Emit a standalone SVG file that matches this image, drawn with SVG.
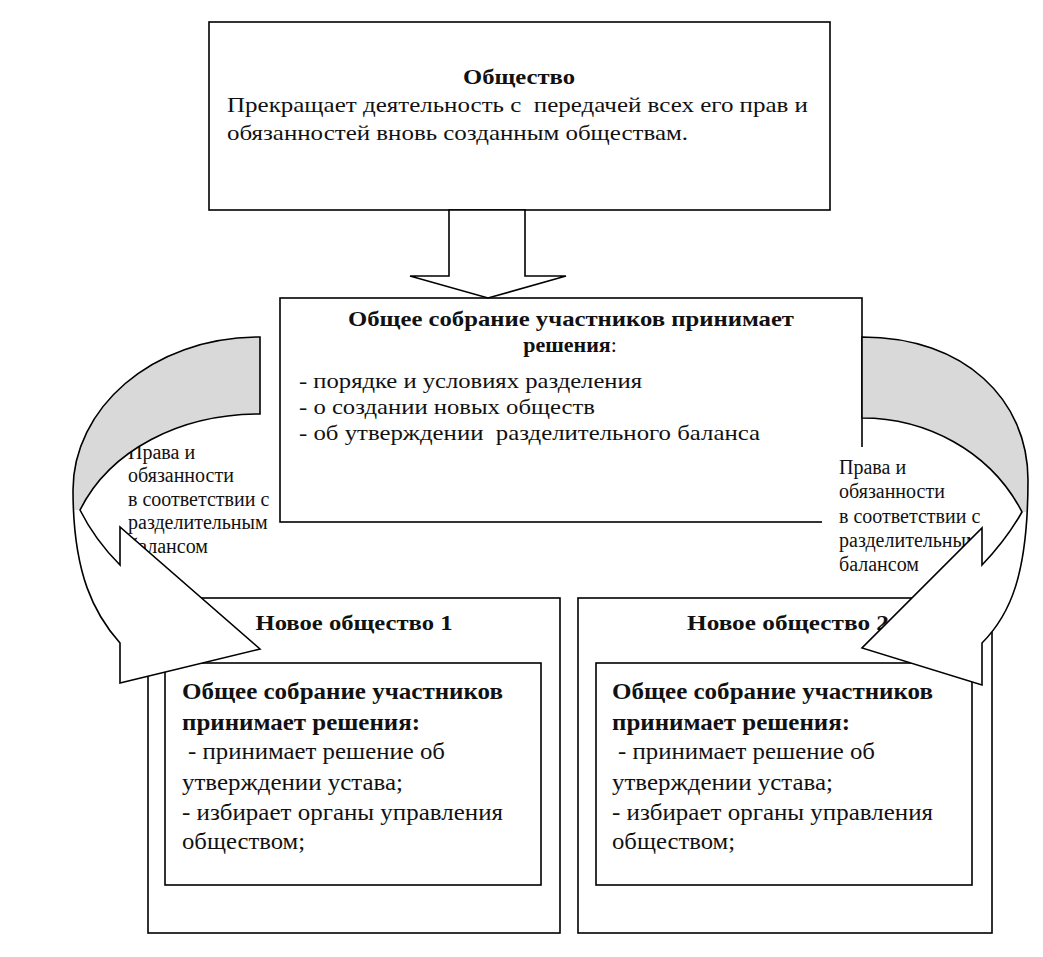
<svg xmlns="http://www.w3.org/2000/svg" xmlns:xlink="http://www.w3.org/1999/xlink" width="1043" height="957" viewBox="0 0 1043 957">
<style>
.box{fill:#fff;stroke:#000;stroke-width:1.6}
.t{font-family:"Liberation Serif","Times New Roman",serif;fill:#111}
.b{font-weight:bold}
.f22{font-size:22px}
.f24{font-size:24px}
.f20{font-size:20px}
.afill{fill:#fff;stroke:none}
.astroke{fill:none;stroke:#000;stroke-width:1.6;stroke-linejoin:miter}
.grey{fill:#d9d9d9;stroke:none}
</style>
<defs>
<path id="leftArrow" d="M260,337 C150,337 73,410 73,490 C73,575 95,615 120,643 L120,683 L260,649 L120,527 L120,565 Q95,540 80,510 C110,450 180,414 260,414 Z"/>
<path id="rightArrow" d="M862,337 C965,337 1028,400 1028,480 C1028,575 1010,615 982,643 L982,685 L862,648 L982,528 L982,565 Q1006,540 1022,512 C990,450 925,418 862,418 Z"/>
</defs>
<rect width="1043" height="957" fill="#fff"/>

<g id="node-top">
<rect class="box" x="209" y="22" width="621" height="188"/>
<text class="t b f22" x="519" y="84" text-anchor="middle" textLength="112" lengthAdjust="spacingAndGlyphs">Общество</text>
<text class="t f22" x="227" y="112" textLength="581" lengthAdjust="spacingAndGlyphs" xml:space="preserve">Прекращает деятельность с  передачей всех его прав и</text>
<text class="t f22" x="227" y="140" textLength="461" lengthAdjust="spacingAndGlyphs">обязанностей вновь созданным обществам.</text>
</g>

<g id="node-middle">
<rect class="box" x="280" y="298" width="582" height="224"/>
<text class="t b f22" x="571" y="326" text-anchor="middle" textLength="446" lengthAdjust="spacingAndGlyphs">Общее собрание участников принимает</text>
<text class="t f22" x="570" y="352" text-anchor="middle"><tspan class="b">решения</tspan>:</text>
<text class="t f22" x="299" y="388" textLength="343" lengthAdjust="spacingAndGlyphs">- порядке и условиях разделения</text>
<text class="t f22" x="299" y="414" textLength="296" lengthAdjust="spacingAndGlyphs">- о создании новых обществ</text>
<text class="t f22" x="299" y="440" textLength="461" lengthAdjust="spacingAndGlyphs" xml:space="preserve">- об утверждении  разделительного баланса</text>
</g>

<g id="node-new1">
<rect class="box" x="148" y="598" width="412" height="335"/>
<text class="t b f22" x="354" y="630" text-anchor="middle" textLength="197" lengthAdjust="spacingAndGlyphs">Новое общество 1</text>
<rect class="box" x="165" y="663" width="376" height="222"/>
<text class="t b f24" x="182" y="699" textLength="321" lengthAdjust="spacingAndGlyphs">Общее собрание участников</text>
<text class="t b f24" x="182" y="730" textLength="238" lengthAdjust="spacingAndGlyphs">принимает решения:</text>
<text class="t f24" x="188" y="759" textLength="257" lengthAdjust="spacingAndGlyphs">- принимает решение об</text>
<text class="t f24" x="182" y="790" textLength="221" lengthAdjust="spacingAndGlyphs">утверждении устава;</text>
<text class="t f24" x="182" y="820" textLength="321" lengthAdjust="spacingAndGlyphs">- избирает органы управления</text>
<text class="t f24" x="182" y="849" textLength="123" lengthAdjust="spacingAndGlyphs">обществом;</text>
</g>

<g id="node-new2">
<rect class="box" x="578" y="598" width="414" height="335"/>
<text class="t b f22" x="788" y="630" text-anchor="middle" textLength="202" lengthAdjust="spacingAndGlyphs">Новое общество 2</text>
<rect class="box" x="596" y="663" width="376" height="222"/>
<text class="t b f24" x="612" y="699" textLength="321" lengthAdjust="spacingAndGlyphs">Общее собрание участников</text>
<text class="t b f24" x="612" y="730" textLength="238" lengthAdjust="spacingAndGlyphs">принимает решения:</text>
<text class="t f24" x="618" y="759" textLength="257" lengthAdjust="spacingAndGlyphs">- принимает решение об</text>
<text class="t f24" x="612" y="790" textLength="221" lengthAdjust="spacingAndGlyphs">утверждении устава;</text>
<text class="t f24" x="612" y="820" textLength="321" lengthAdjust="spacingAndGlyphs">- избирает органы управления</text>
<text class="t f24" x="612" y="849" textLength="123" lengthAdjust="spacingAndGlyphs">обществом;</text>
</g>

<g id="label-left">
<text class="t f20" x="128" y="459">Права и</text>
<text class="t f20" x="128" y="482">обязанности</text>
<text class="t f20" x="128" y="506">в соответствии с</text>
<text class="t f20" x="128" y="529">разделительным</text>
<text class="t f20" x="128" y="553">балансом</text>
</g>

<g id="label-right">
<rect x="822" y="447" width="180" height="133" fill="#fff"/>
<text class="t f20" x="839" y="474">Права и</text>
<text class="t f20" x="839" y="498">обязанности</text>
<text class="t f20" x="839" y="523">в соответствии с</text>
<text class="t f20" x="839" y="547">разделительным</text>
<text class="t f20" x="839" y="571">балансом</text>
</g>

<g id="connectors">
<polygon class="box" points="449,210 525,210 525,276 566,276 488,298 410,276 449,276"/>
<use xlink:href="#leftArrow" class="afill"/>
<path class="grey" d="M260,337 C150,337 73,410 73,490 L74,510 L80,510 C110,450 180,414 260,414 Z"/>
<use xlink:href="#leftArrow" class="astroke"/>
<use xlink:href="#rightArrow" class="afill"/>
<path class="grey" d="M862,337 C965,337 1028,400 1028,480 L1028,512 L1022,512 C990,450 925,418 862,418 Z"/>
<use xlink:href="#rightArrow" class="astroke"/>
</g>
</svg>
